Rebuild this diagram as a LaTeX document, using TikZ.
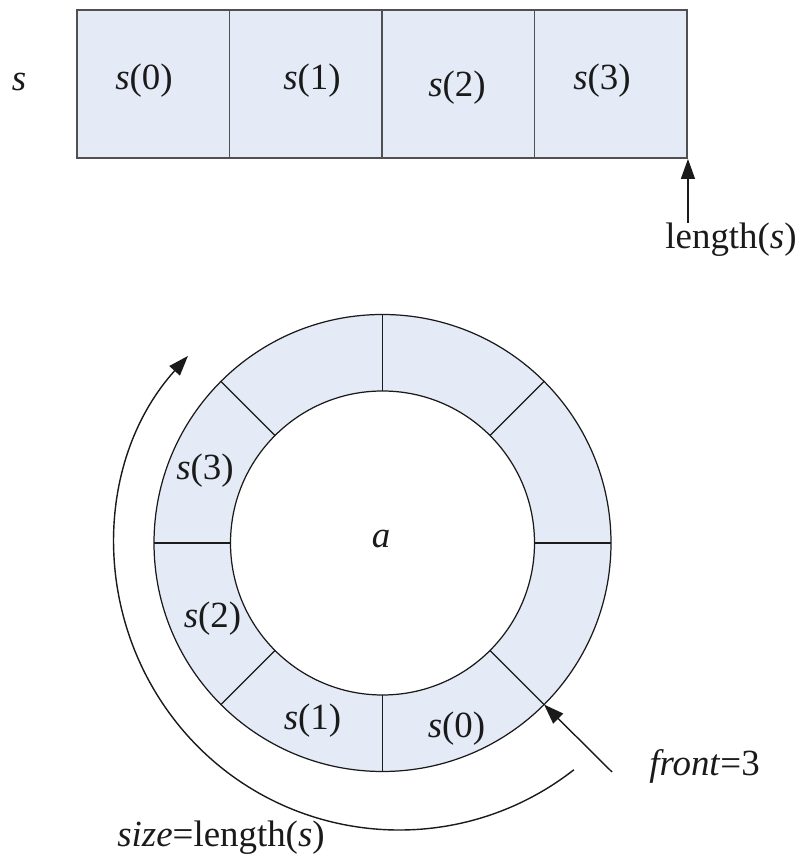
\documentclass[tikz,border=0pt]{standalone}
\usepackage{fontspec}
\setmainfont{Liberation Serif}
\definecolor{cell}{HTML}{E4EBF6}
\definecolor{edge}{HTML}{505050}
\definecolor{ink} {HTML}{1A1A1A}
\usetikzlibrary{arrows.meta, calc}

\begin{document}
\begin{tikzpicture}[
  x=0.02cm, y=0.02cm,
  txt/.style ={font=\fontsize{21}{25}\selectfont, text=ink, inner sep=0pt},
  slot/.style={draw=edge, fill=cell, line width=1.1pt, minimum width=3.05cm,
               minimum height=2.96cm, inner sep=0pt},
  ringline/.style={draw=ink, line width=0.7pt},
  arr/.style ={-{Triangle[length=4mm, width=2.8mm]}, draw=ink, line width=0.8pt},
]
  \useasboundingbox (0,0) rectangle (802,857);

  % --- the string s as a row of cells --------------------------
  \node[txt] (sname) at (19,775) {\textit{s}};
  \foreach \i/\x in {0/153.25, 1/305.75, 2/458.25, 3/610.75}
    \node[slot] (c\i) at (\x,773) {};
  \foreach \i/\x/\y in {0/144/776, 1/312/776, 2/457/769, 3/602/776}
    \node[txt] (t\i) at (\x,\y) {\textit{s}(\i)};

  \node[txt] (len) at (731,617) {length(\textit{s})};
  \draw[arr] (len.north -| c3.south east) -- (c3.south east);

  % --- the ring buffer a ---------------------------------------
  \coordinate (ctr) at (382.5,314);
  \fill[cell, even odd rule] (ctr) circle (228.5) (ctr) circle (152);
  \draw[ringline] (ctr) circle (228.5) (ctr) circle (152);
  \foreach \ang in {0,45,...,315}
    \draw[ringline] ($(ctr)+(\ang:152)$) -- ($(ctr)+(\ang:228.5)$);

  \node[txt] (aname) at (381,318) {\textit{a}};
  \foreach \i/\x/\y in {0/456.5/128.5, 1/312.5/136, 2/212.5/238, 3/205/386}
    \node[txt] (r\i) at (\x,\y) {\textit{s}(\i)};

  % --- front pointer -------------------------------------------
  \coordinate (frontin) at ($(ctr)+(-45:228.5)$);
  \coordinate (frontfoot) at (612,85);
  \draw[arr] (frontfoot) -- (frontin);
  \node[txt] (frontlbl) at (704.5,91) {\textit{front}=3};

  % --- size sweep round the ring -------------------------------
  \coordinate (sweep) at (399,311);
  \draw[arr] ($(sweep)+(-52:284)$) arc[start angle=-52, end angle=-222, radius=284];
  \node[txt] (sizelbl) at (221,19) {\textit{size}=length(\textit{s})};
\end{tikzpicture}
\end{document}
